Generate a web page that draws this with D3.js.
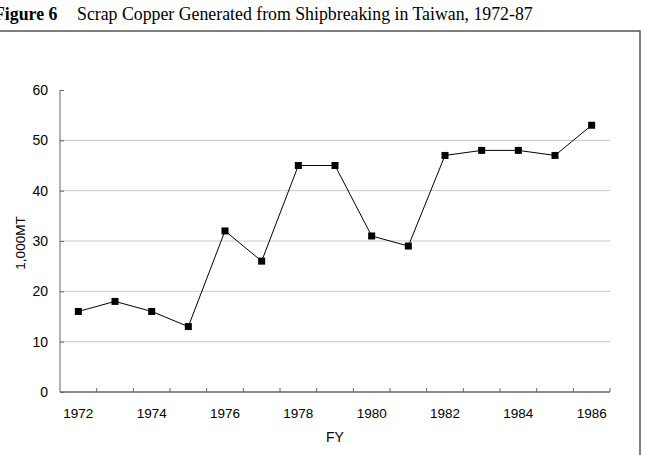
<!DOCTYPE html>
<html>
<head>
<meta charset="utf-8">
<script src="https://cdn.jsdelivr.net/npm/d3@7"></script>
<style>
  body { margin: 0; background: #fff; }
  svg { display: block; }
  .axis text { font-family: "Liberation Sans", Arial, sans-serif; font-size: 13.5px; fill: #000; }
  .axis.yax text { font-size: 14px; }
</style>
</head>
<body>
<script>
var years = [1972, 1973, 1974, 1975, 1976, 1977, 1978, 1979, 1980, 1981, 1982, 1983, 1984, 1985, 1986];
var copper = [16, 18, 16, 13, 32, 26, 45, 45, 31, 29, 47, 48, 48, 47, 53];
var yTicks = [0, 10, 20, 30, 40, 50, 60];
var xLabels = [1972, 1974, 1976, 1978, 1980, 1982, 1984, 1986];

var W = 645, H = 455;
var margin = { top: 90, left: 60, right: 35, bottom: 63 };

var svg = d3.select("body").append("svg")
  .attr("width", W)
  .attr("height", H);

// outer frame (left edge sits just off the page)
svg.append("rect")
  .attr("x", -2).attr("y", 31)
  .attr("width", 642).attr("height", 440)
  .attr("fill", "none")
  .attr("stroke", "#555")
  .attr("stroke-width", 1.5);

// title - starts slightly off the page like the scanned figure
var title = svg.append("text")
  .attr("x", -6).attr("y", 20)
  .attr("font-family", "'Liberation Serif', 'Times New Roman', serif")
  .attr("font-size", 17.8);
title.append("tspan").attr("font-weight", "bold").text("Figure 6");
title.append("tspan").attr("x", 77).text("Scrap Copper Generated from Shipbreaking in Taiwan, 1972-87");

var x = d3.scaleBand().domain(years).range([margin.left, W - margin.right]);
var y = d3.scaleLinear().domain([0, 60]).range([H - margin.bottom, margin.top]);

// gridlines
svg.append("g").selectAll("line")
  .data(yTicks.filter(function (d) { return d > 0 && d < 60; }))
  .enter().append("line")
  .attr("x1", margin.left).attr("x2", W - margin.right)
  .attr("y1", function (d) { return y(d); })
  .attr("y2", function (d) { return y(d); })
  .attr("stroke", "#c8c8c8")
  .attr("stroke-width", 1);

// y axis
var yAxis = d3.axisLeft(y).tickValues(yTicks).tickSize(-4).tickPadding(12);
var gy = svg.append("g").attr("class", "axis yax")
  .attr("transform", "translate(" + margin.left + ",0)")
  .call(yAxis);
gy.select(".domain").attr("stroke", "#666").attr("d", "M0," + y(60) + "V" + y(0));
gy.selectAll(".tick line").attr("stroke", "#666");

// x axis: ticks at category boundaries
var bounds = years.map(function (d) { return x(d); }).concat([W - margin.right]);
var gx = svg.append("g").attr("class", "axis");
gx.append("line")
  .attr("x1", margin.left).attr("x2", W - margin.right)
  .attr("y1", y(0)).attr("y2", y(0))
  .attr("stroke", "#666").attr("stroke-width", 1.5);
gx.selectAll(".xt").data(bounds.slice(1)).enter().append("line")
  .attr("x1", function (d) { return d; }).attr("x2", function (d) { return d; })
  .attr("y1", y(0)).attr("y2", y(0) - 4)
  .attr("stroke", "#666");
gx.selectAll(".xl").data(xLabels).enter().append("text")
  .attr("x", function (d) { return x(d) + x.bandwidth() / 2; })
  .attr("y", y(0) + 26)
  .attr("text-anchor", "middle")
  .text(function (d) { return d; });

// axis titles
svg.append("text")
  .attr("x", 335).attr("y", 442)
  .attr("text-anchor", "middle")
  .attr("font-family", "'Liberation Sans', Arial, sans-serif")
  .attr("font-size", 14)
  .text("FY");
svg.append("text")
  .attr("transform", "translate(25,243) rotate(-90)")
  .attr("text-anchor", "middle")
  .attr("font-family", "'Liberation Sans', Arial, sans-serif")
  .attr("font-size", 13.5)
  .text("1,000MT");

// series
var cx = function (d, i) { return x(years[i]) + x.bandwidth() / 2; };
var line = d3.line()
  .x(function (d, i) { return cx(d, i); })
  .y(function (d) { return y(d); });
svg.append("path")
  .datum(copper)
  .attr("d", line)
  .attr("fill", "none")
  .attr("stroke", "#000")
  .attr("stroke-width", 1);
svg.append("g").selectAll("rect")
  .data(copper).enter().append("rect")
  .attr("x", function (d, i) { return cx(d, i) - 3.5; })
  .attr("y", function (d) { return y(d) - 3.5; })
  .attr("width", 7).attr("height", 7)
  .attr("fill", "#000");
</script>
</body>
</html>
